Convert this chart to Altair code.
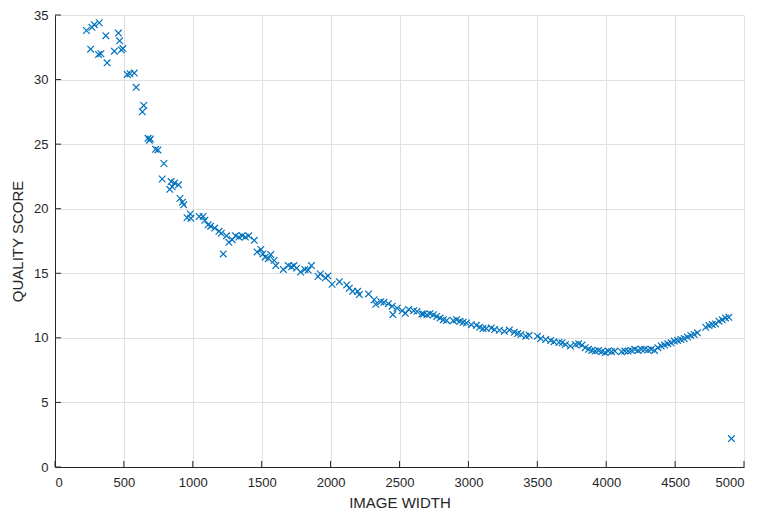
import altair as alt
import pandas as pd

# Image width values
image_width = [
    228, 268, 285, 321, 369, 460, 469, 493, 481, 431, 259, 316, 333, 378,
    524, 544, 575, 589, 644, 634, 675, 692, 685, 730, 747, 790, 778, 843,
    833, 850, 868,
    896, 907, 934, 925, 982, 958, 986, 1046, 1075, 1087, 1111, 1130, 1159,
    1190, 1207, 1245, 1262, 1286, 1310, 1334, 1358, 1381, 1406, 1446, 1221,
    1466, 1494, 1509, 1525, 1549, 1566, 1590, 1602, 1657, 1693, 1717, 1734,
    1753, 1782, 1813, 1837, 1861, 1909, 1925, 1963, 1981, 2011, 2064, 2117,
    2136, 2160, 2196, 2208, 2275, 2316, 2328, 2364, 2387, 2419, 2447, 2452,
    2483, 2519, 2543, 2567, 2603, 2627, 2663,
    2675, 2699, 2722, 2746, 2770, 2794, 2818, 2842, 2890, 2914, 2938, 2962,
    2986, 3022, 3058, 3082, 3106, 3130, 3166, 3190, 3225, 3261, 3297, 3333,
    3357, 3381, 3417, 3441, 3501, 3525, 3561, 3597, 3621, 3657, 3680, 3704,
    3740,
    3776, 3800, 3824, 3848, 3872, 3896, 3920, 3944, 3968, 3992, 4015, 4039,
    4063, 4111, 4135, 4159, 4183, 4207, 4231, 4255, 4279, 4303, 4327, 4351,
    4375, 4399, 4423, 4447, 4471, 4494, 4518, 4542, 4566, 4590, 4614, 4638,
    4662, 4722, 4746, 4770, 4794, 4818, 4842, 4866, 4890, 4909,
]

# Quality score values
quality_score = [
    33.8, 34.05, 34.25, 34.4, 33.4, 33.6, 33.0, 32.4, 32.3, 32.2, 32.35, 31.95, 32.0, 31.3,
    30.4, 30.45, 30.5, 29.4, 28.0, 27.5, 25.45, 25.4, 25.3, 24.6, 24.55, 23.5, 22.3, 22.1,
    21.5, 21.7, 22.0,
    21.85, 20.8, 20.3, 20.5, 19.6, 19.3, 19.26, 19.4, 19.4, 19.1, 18.75, 18.65, 18.5,
    18.25, 18.1, 17.9, 17.4, 17.6, 17.9, 17.8, 17.9, 17.8, 17.9, 17.55, 16.5,
    16.65, 16.85, 16.5, 16.25, 16.15, 16.45, 16.0, 15.6, 15.3, 15.6, 15.5, 15.6,
    15.4, 15.1, 15.3, 15.25, 15.6, 14.75, 14.95, 14.65, 14.8, 14.15, 14.35, 14.1,
    13.85, 13.6, 13.6, 13.35, 13.4, 12.95, 12.6, 12.8, 12.75, 12.65, 12.45, 11.8,
    12.3, 12.1, 11.9, 12.2, 12.1, 12.05, 11.85,
    11.84, 11.79, 11.87, 11.79, 11.66, 11.53, 11.41, 11.35, 11.33, 11.41, 11.28, 11.2,
    11.15, 11.02, 10.97, 10.82, 10.72, 10.72, 10.77, 10.64, 10.59, 10.51, 10.61, 10.43,
    10.33, 10.26, 10.13, 10.2, 10.13, 9.95, 9.87, 9.8, 9.69, 9.64, 9.62, 9.49,
    9.36,
    9.49, 9.55, 9.44, 9.24, 9.11, 9.03, 8.98, 9.03, 8.93, 8.86, 8.98, 8.93,
    8.98, 8.93, 8.98, 8.98, 9.03, 9.11, 9.03, 9.11, 9.11, 9.06, 9.11, 9.03,
    9.24, 9.37, 9.44, 9.55, 9.62, 9.75, 9.8, 9.88, 9.95, 10.06, 10.19, 10.26,
    10.39, 10.82, 10.95, 11.03, 11.08, 11.29, 11.41, 11.54, 11.59, 2.2,
]

x_ticks = [0, 500, 1000, 1500, 2000, 2500, 3000, 3500, 4000, 4500, 5000]
y_ticks = [0, 5, 10, 15, 20, 25, 30, 35]

W, H = 689, 452
AX = "#262626"
FONT = "Liberation Sans"

df = pd.DataFrame({"w": image_width, "q": quality_score})
xt = pd.DataFrame({"w": x_ticks})
yt = pd.DataFrame({"q": y_ticks})

xscale = alt.Scale(domain=[0, 5000], nice=False, zero=False)
yscale = alt.Scale(domain=[0, 35], nice=False, zero=False)

x_axis = alt.Axis(values=x_ticks, ticks=False, labelPadding=9,
                  titlePadding=6, format="d")
y_axis = alt.Axis(values=y_ticks, ticks=False, labelPadding=7,
                  titlePadding=8, format="d")

X = alt.X("w:Q", scale=xscale, title="IMAGE WIDTH", axis=x_axis)
Y = alt.Y("q:Q", scale=yscale, title="QUALITY SCORE", axis=y_axis)

points = alt.Chart(df).mark_point(
    shape="M-1,-1L1,1M-1,1L1,-1",
    filled=False,
    size=44,
    strokeWidth=1.2,
    color="#0072BD",
    stroke="#0072BD",
    opacity=1,
).encode(x=X, y=Y)

xtick_marks = alt.Chart(xt).mark_rule(color=AX, strokeWidth=1).encode(
    x=X,
    y=alt.value(H),
    y2=alt.value(H - 6),
)

ytick_marks = alt.Chart(yt).mark_rule(color=AX, strokeWidth=1).encode(
    y=Y,
    x=alt.value(0),
    x2=alt.value(6),
)

chart = alt.layer(points, xtick_marks, ytick_marks).properties(
    width=W,
    height=H,
    autosize=alt.AutoSizeParams(type="none"),
    padding={"left": 47, "top": 7, "right": 14, "bottom": 46},
    background="white",
).configure_view(
    stroke=None
).configure_axis(
    domainColor=AX,
    domainWidth=1,
    grid=True,
    gridColor="#e0e0e0",
    gridWidth=1,
    labelColor=AX,
    labelFont=FONT,
    labelFontSize=13,
    titleColor=AX,
    titleFont=FONT,
    titleFontSize=15,
    titleFontWeight="normal",
)

chart.save("out.html", embed_options={"renderer": "svg", "actions": False})
